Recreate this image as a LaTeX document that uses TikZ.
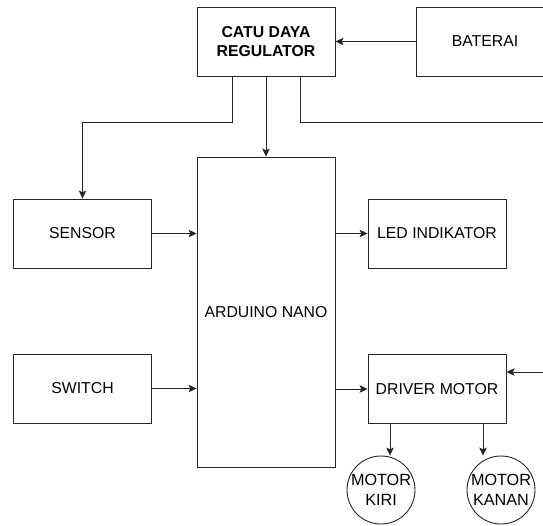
\documentclass[tikz,border=0pt]{standalone}
\usepackage{fontspec}
\setmainfont{Liberation Sans}
\usetikzlibrary{arrows.meta}

\tikzset{
    block/.style={draw=black!85, line width=0.9pt, minimum width=138pt, minimum height=69pt,
        inner sep=2pt, align=center, font=\fontsize{15.8}{19.5}\selectfont},
    motor/.style={draw=black!85, line width=0.9pt, circle, minimum size=68pt, inner sep=0pt,
        align=center, font=\fontsize{16.2}{19.5}\selectfont},
    link/.style={draw=black!85, line width=0.9pt, -{Stealth[length=8pt,width=7.5pt,inset=1.8pt]}}
}

\begin{document}
\begin{tikzpicture}[x=1pt,y=-1pt]
    \clip (0,0) rectangle (543,525);
    \fill[white] (0,0) rectangle (543,525);

    % blocks
    \node[block, font=\fontsize{15.8}{19.5}\selectfont\bfseries] (catu) at (266,41.5) {CATU DAYA\\REGULATOR};
    \node[block] (bat) at (485,41.5) {BATERAI};
    \node[block, minimum height=310pt] (ard) at (266,312) {ARDUINO NANO};
    \node[block] (sens) at (82.5,233.5) {SENSOR};
    \node[block] (sw) at (82.5,388.5) {SWITCH};
    \node[block] (led) at (437,233.5) {LED INDIKATOR};
    \node[block] (drv) at (437,389) {DRIVER MOTOR};
    \node[motor] (kiri) at (381,490) {MOTOR\\KIRI};
    \node[motor] (kanan) at (501,490) {MOTOR\\KANAN};

    % power lines
    \coordinate (railtop) at (560,122);
    \coordinate (railbot) at (560,372);
    \draw[link] (bat.west) -- (catu.east);
    \draw[link] ([xshift=-34pt]catu.south) -- ++(0,46) -| (sens.north);
    \draw[link] (catu.south) -- (ard.north);
    \draw[link] ([xshift=34pt]catu.south) |- (railtop) -- (railbot) -- (railbot -| drv.east);

    % signal lines
    \draw[link] (sens.east) -- (sens.east -| ard.west);
    \draw[link] (sw.east) -- (sw.east -| ard.west);
    \draw[link] (led.west -| ard.east) -- (led.west);
    \draw[link] (drv.west -| ard.east) -- (drv.west);
    \draw[link] ([xshift=9pt]kiri.north |- drv.south) -- ([xshift=9pt]kiri.north);
    \draw[link] ([xshift=-18pt]kanan.north |- drv.south) -- ([xshift=-18pt]kanan.north);
\end{tikzpicture}
\end{document}
